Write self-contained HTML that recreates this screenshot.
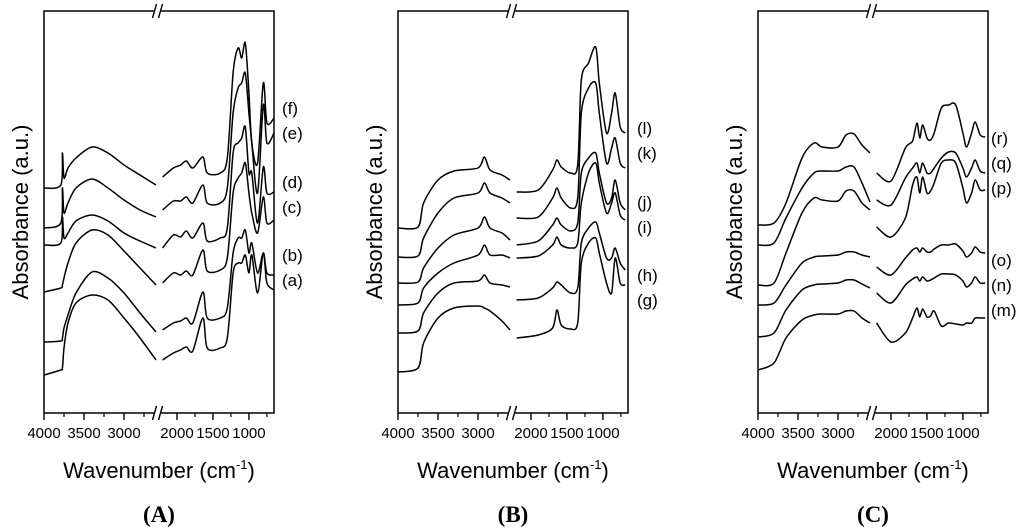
<!DOCTYPE html>
<html><head><meta charset="utf-8"><style>
html,body{margin:0;padding:0;background:#fff;}
svg{display:block;font-family:"Liberation Sans",Arial,sans-serif;}
</style></head><body>
<svg id="fig" width="1024" height="531" viewBox="0 0 1024 531"></svg>
<script>
// ---- shared axis data ----
const leftTicks = [4000,3500,3000];
const leftMinor = [3750,3250,2750];
const rightTicks = [2000,1500,1000];
const rightMinor = [1750,1250,750];

// ---- Panel A ----
const wnLeftA = [4000,3790,3770,3750,3700,3600,3400,3200,3000,2800,2600];
const wnRightA = [2200,2050,1950,1870,1780,1640,1580,1400,1300,1220,1150,1100,1050,1000,960,880,800,750,650];
const aLeft = [3.8,4.3,4.5,6.5,9,11,11.8,11.3,9.5,7.5,5.3];
const aRight = [5.3,6,6.3,6.6,6.2,9.5,6.5,6.5,7.5,14,15,15,15.8,14,15.8,12,16,13,12.3];
const bLeft = [7.1,7.2,7.5,8.5,9.8,12,14.1,13.5,12,10,8.1];
const bRight = [8.3,9.0,9.2,9.5,9.0,12.1,9.5,9.5,10.5,16,17.5,17.5,18.3,16,17,14,16,14,13.8];
const cLeft = [12.1,12.5,12.8,13.5,15,17,18.3,17.8,16.2,14.5,12.8];
const cRight = [13,14,13.8,14.2,13.8,16.3,14.2,14.3,15.5,22,23.5,24,25,22,20,18,21.6,19,19.3];
const dLeft = [16.8,17,19.6,17.5,18,19.2,19.8,19.2,18,17.2,16.5];
const dRight = [16.5,17.8,17.6,18.2,17.5,19,17.2,17.5,18.5,26,27,27.5,28.6,24,24,19,24.6,22,22.1];
const eLeft = [18.5,19,22.5,20,21,22.5,23.4,22.5,21.3,20.3,19.6];
const eRight = [20.3,21.2,21.2,21.6,21.0,22.8,21.0,21.0,22.5,30,32.5,33,34,30,27,22,30.8,27,28];
const fLeft = [22.5,22.8,26,23.5,24.5,25.5,26.6,26,24.8,23.8,22.8];
const fRight = [23.6,24.5,24.8,25.2,24.5,25.6,24.0,24.0,25.5,34,36.5,35.5,37,32,27,25,33,29,29.5];

// ---- Panel B ----
const wnLeftB = [4000,3750,3680,3500,3300,3000,2920,2850,2700,2600];
const wnRightB = [2200,1900,1700,1640,1580,1450,1350,1300,1200,1100,1050,950,880,830,760,690];
const gLeft = [4.1,4.5,7,9.5,10.5,10.7,10.5,10.2,9.2,8.3];
const gRight = [7.5,7.8,8.5,10.3,8.8,8.4,9,15,17,17.5,16,13,12,15.5,13,12.8];
const hLeft = [8,8.2,10,12,13,13.2,13.8,13,12.8,12.6];
const hRight = [11.3,11.5,12.5,13.1,12.8,12,12.5,17,18.5,19.1,18,15.5,15.5,16.5,15,14.3];
const iLeft = [10.8,11,12.5,14,15,15.8,16.8,15.8,15.8,15.5];
const iRight = [15.5,15.7,16.8,17.6,16.8,16.5,17,21,24,25,23,20,21,22,19.8,19.3];
const jLeft = [13,13.1,14.5,16.5,17.8,18.5,19.6,18.5,18,17.3];
const jRight = [16.8,17.2,18.8,19.5,18.8,18.2,19,24,25.5,26,24,21,21.5,23.3,21,20.3];
const kLeft = [15.6,15.7,17.5,20,21.5,22,23,22,21.5,21];
const kRight = [19.5,19.6,21.5,22.5,21.5,20.5,21.5,30,32.5,33,30,25,26.5,27.5,25,24.5];
const lLeft = [18.5,18.6,21,23.3,24.2,24.5,25.6,24.3,23.8,23.3];
const lRight = [22.1,22.3,24.3,25.3,24.6,24,24.8,33.3,35,36.6,33,28,30,32,28.6,28];

// ---- Panel C ----
const wnLeftC = [4000,3800,3650,3450,3300,3200,3000,2900,2800,2700,2600];
const wnRightC = [2200,2000,1800,1700,1640,1600,1560,1500,1450,1400,1300,1200,1100,1000,950,880,830,760,690];
const mLeft = [4.3,5,7.5,9.3,9.8,9.9,9.9,10.2,10.2,9.5,9];
const mRight = [9,7.1,8,9.5,10.5,9.6,10.4,9.6,9.7,10.2,8.7,9,8.9,8.8,9,9,9.5,9.5,9.5];
const nLeft = [7.6,8,10.3,12.3,12.8,12.9,13,13.3,13.3,12.9,12.5];
const nRight = [12,11,12.8,13.4,13.6,13.2,13.6,13.2,13.3,13.5,13.9,13.9,13.8,13.2,12.6,13,13.6,13,13];
const oLeft = [10.8,11,12.8,15,15.6,15.7,15.8,16.1,16.1,15.8,15.6];
const oRight = [14.6,13.8,15.5,16.3,16.5,16.1,16.5,16.1,16.1,16.4,16.8,16.8,16.9,16.2,15.6,16,16.6,16.1,16];
const pLeft = [12.8,13,16,20,21.5,21.3,21.2,22.2,22.2,21,20.3];
const pRight = [18.6,17.6,19.5,22.8,23.6,22,23.6,22,22.2,23,25,25.3,25,22.5,21,22,23.3,22.3,22.3];
const qLeft = [16.8,17,19.5,22.5,24,24.2,24.2,24.6,24.6,23,21.1];
const qRight = [21.3,20.8,23.5,24.5,25,24,25,24,24,24.5,25.5,26.1,26,24.5,23.6,24.5,25.3,24.2,24];
const rLeft = [18.8,19,21,25.5,27,26.6,26.6,27.8,27.9,26.8,26];
const rRight = [24,23.2,26.5,27.2,29,27.5,28.8,27.5,27.3,28,30.5,30.8,30.8,28,26.6,28,29.1,27.8,27.6];

const NS = "http://www.w3.org/2000/svg";
const svg = document.getElementById('fig');
const TOP = 11, BOT = 413, W = 230;
function el(tag, attrs, parent) {
  const e = document.createElementNS(NS, tag);
  for (const k in attrs) e.setAttribute(k, attrs[k]);
  (parent || svg).appendChild(e);
  return e;
}
function yScale(a) { return BOT - a * 10; }
function xLeft(x0, wn) { return x0 + (4000 - wn) / 12.5; }
function xRight(x0, wn) { return x0 + 115 + (2250 - wn) / 13.9; }

function smooth(pts) {
  let d = 'M' + pts[0][0].toFixed(1) + ' ' + pts[0][1].toFixed(1);
  const t = 0.15;
  for (let i = 0; i < pts.length - 1; i++) {
    const p0 = pts[i - 1] || pts[i], p1 = pts[i], p2 = pts[i + 1], p3 = pts[i + 2] || p2;
    const c1x = p1[0] + (p2[0] - p0[0]) * t, c1y = p1[1] + (p2[1] - p0[1]) * t;
    const c2x = p2[0] - (p3[0] - p1[0]) * t, c2y = p2[1] - (p3[1] - p1[1]) * t;
    d += ' C' + c1x.toFixed(1) + ' ' + c1y.toFixed(1) + ' ' + c2x.toFixed(1) + ' ' + c2y.toFixed(1) + ' ' + p2[0].toFixed(1) + ' ' + p2[1].toFixed(1);
  }
  return d;
}

function panel(x0, letter, labelX, series) {
  const g = el('g', {});
  
  
  const fr = el('rect', {x: x0, y: TOP, width: W, height: BOT - TOP, fill: 'none', stroke: '#000', 'stroke-width': 1.5}, g);
  
  
  const bx = x0 + 113.5;
  [TOP, BOT].forEach(yy => {
    const bg = el('g', {}, g);
    
    
    el('rect', {x: bx - 3, y: yy - 2, width: 6, height: 4, fill: '#fff'}, bg);
    el('line', {x1: bx - 5, y1: yy + 7, x2: bx - 1, y2: yy - 7, stroke: '#000', 'stroke-width': 1.4}, bg);
    el('line', {x1: bx + 1, y1: yy + 7, x2: bx + 5, y2: yy - 7, stroke: '#000', 'stroke-width': 1.4}, bg);
  });
  const tg = el('g', {}, g);
  
  
  leftTicks.forEach(t => {
    const x = xLeft(x0, t);
    el('line', {x1: x, y1: BOT, x2: x, y2: BOT + 7, stroke: '#000', 'stroke-width': 1.4}, tg);
    const tx = el('text', {x: x, y: 438, 'font-size': 15, 'text-anchor': 'middle'}, tg);
    tx.textContent = t;
    
    
  });
  leftMinor.forEach(t => { const x = xLeft(x0, t); el('line', {x1: x, y1: BOT, x2: x, y2: BOT + 4, stroke: '#000', 'stroke-width': 1.2}, tg); });
  rightTicks.forEach(t => {
    const x = xRight(x0, t);
    el('line', {x1: x, y1: BOT, x2: x, y2: BOT + 7, stroke: '#000', 'stroke-width': 1.4}, tg);
    const tx = el('text', {x: x, y: 438, 'font-size': 15, 'text-anchor': 'middle'}, tg);
    tx.textContent = t;
    
    
  });
  rightMinor.forEach(t => { const x = xRight(x0, t); el('line', {x1: x, y1: BOT, x2: x, y2: BOT + 4, stroke: '#000', 'stroke-width': 1.2}, tg); });
  const cx = x0 + W / 2;
  const xt = el('text', {x: cx, y: 478, 'font-size': 22, 'text-anchor': 'middle'}, g);
  xt.innerHTML = 'Wavenumber (cm<tspan dy="-9" font-size="13">-1</tspan><tspan dy="9">)</tspan>';
  
  
  const yt = el('text', {x: 0, y: 0, 'font-size': 22, 'text-anchor': 'middle', transform: 'translate(' + (x0 - 16) + ',212) rotate(-90)'}, g);
  yt.textContent = 'Absorbance (a.u.)';
  
  
  const pl = el('text', {x: cx, y: 522, 'font-size': 23, 'font-weight': 'bold', 'text-anchor': 'middle', 'font-family': '"Liberation Serif",serif'}, g);
  pl.textContent = '(' + letter + ')';
  
  
  series.forEach(s => {
    const sg = el('g', {}, g);
    
    
    const pl = s.wl.map((w, i) => [xLeft(x0, w), yScale(s.left[i])]);
    const pr = s.wr.map((w, i) => [xRight(x0, w), yScale(s.right[i])]);
    el('path', {d: smooth(pl), fill: 'none', stroke: '#000', 'stroke-width': 1.5, 'stroke-linejoin': 'round'}, sg);
    el('path', {d: smooth(pr), fill: 'none', stroke: '#000', 'stroke-width': 1.5, 'stroke-linejoin': 'round'}, sg);
    const lt = el('text', {x: labelX, y: s.ly + 6, 'font-size': 17}, g);
    lt.textContent = '(' + s.name + ')';
    
    
  });
}

panel(44, 'A', 282, [
  {name: 'a', wl: wnLeftA, wr: wnRightA, left: aLeft, right: aRight, ly: 280},
  {name: 'b', wl: wnLeftA, wr: wnRightA, left: bLeft, right: bRight, ly: 255},
  {name: 'c', wl: wnLeftA, wr: wnRightA, left: cLeft, right: cRight, ly: 207},
  {name: 'd', wl: wnLeftA, wr: wnRightA, left: dLeft, right: dRight, ly: 182},
  {name: 'e', wl: wnLeftA, wr: wnRightA, left: eLeft, right: eRight, ly: 133},
  {name: 'f', wl: wnLeftA, wr: wnRightA, left: fLeft, right: fRight, ly: 108}
]);
panel(398, 'B', 637, [
  {name: 'g', wl: wnLeftB, wr: wnRightB, left: gLeft, right: gRight, ly: 300},
  {name: 'h', wl: wnLeftB, wr: wnRightB, left: hLeft, right: hRight, ly: 275},
  {name: 'i', wl: wnLeftB, wr: wnRightB, left: iLeft, right: iRight, ly: 227},
  {name: 'j', wl: wnLeftB, wr: wnRightB, left: jLeft, right: jRight, ly: 202},
  {name: 'k', wl: wnLeftB, wr: wnRightB, left: kLeft, right: kRight, ly: 153},
  {name: 'l', wl: wnLeftB, wr: wnRightB, left: lLeft, right: lRight, ly: 128}
]);
panel(758, 'C', 991, [
  {name: 'm', wl: wnLeftC, wr: wnRightC, left: mLeft, right: mRight, ly: 310},
  {name: 'n', wl: wnLeftC, wr: wnRightC, left: nLeft, right: nRight, ly: 285},
  {name: 'o', wl: wnLeftC, wr: wnRightC, left: oLeft, right: oRight, ly: 260},
  {name: 'p', wl: wnLeftC, wr: wnRightC, left: pLeft, right: pRight, ly: 188},
  {name: 'q', wl: wnLeftC, wr: wnRightC, left: qLeft, right: qRight, ly: 163},
  {name: 'r', wl: wnLeftC, wr: wnRightC, left: rLeft, right: rRight, ly: 138}
]);
</script>
</body></html>
